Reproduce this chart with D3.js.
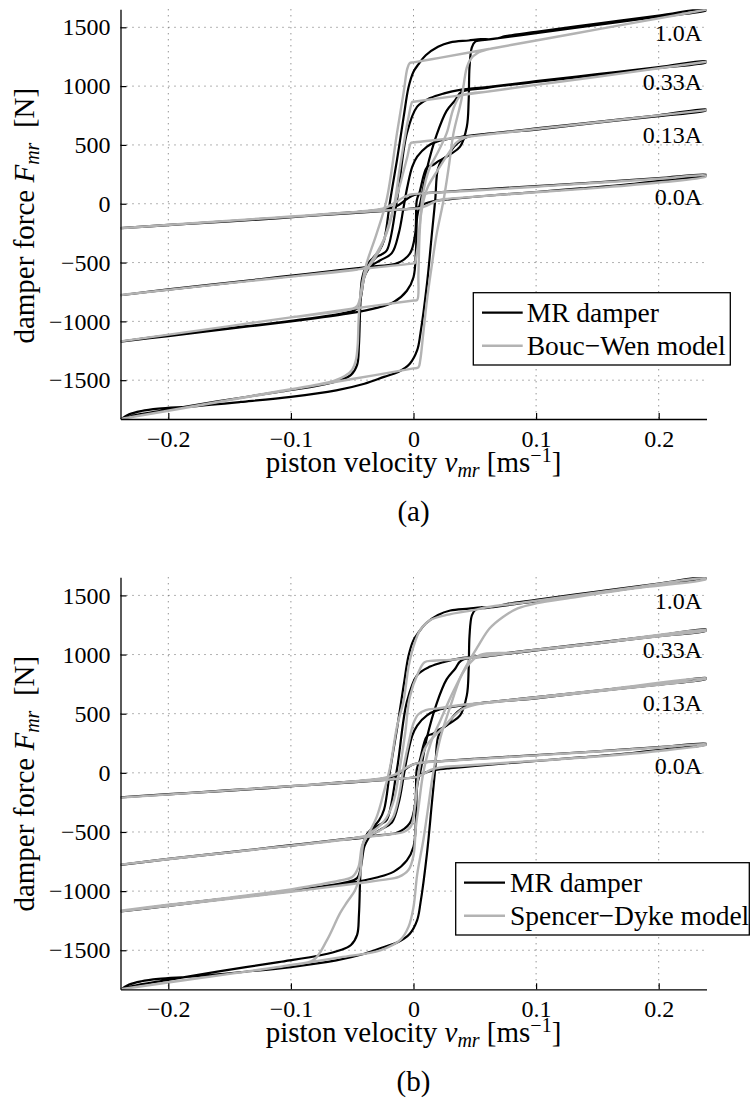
<!DOCTYPE html>
<html>
<head>
<meta charset="utf-8">
<script src="https://cdnjs.cloudflare.com/ajax/libs/d3/7.8.5/d3.min.js"></script>
<style>
  body { margin: 0; background: #fff; }
  svg text { font-family: "Liberation Serif", "Times New Roman", serif; fill: #000; }
</style>
</head>
<body>
<script>
// axis ticks: piston velocity [m/s] and damper force [N]
var xTicks = [-0.2, -0.1, 0, 0.1, 0.2];
var xTickLabels = ["\u22120.2", "\u22120.1", "0", "0.1", "0.2"];
var yTicks = [-1500, -1000, -500, 0, 500, 1000, 1500];
var yTickLabels = ["\u22121500", "\u22121000", "\u2212500", "0", "500", "1000", "1500"];

// coil currents and the force level their label sits at
var currents = ["1.0A", "0.33A", "0.13A", "0.0A"];
var currentLabelForce = [1385, 968, 520, -10];

// measured MR damper loops [velocity, force], increasing branch then decreasing branch
var measured10 = [[-0.239,-1835],[-0.232,-1790],[-0.222,-1762],[-0.208,-1742],[-0.18,-1722],[-0.141,-1685],[-0.1,-1642],[-0.063,-1586],[-0.04,-1530],[-0.024,-1472],[-0.0125,-1430],[-0.003,-1360],[0.003,-1245],[0.0057,-1100],[0.011,-680],[0.015,-255],[0.0177,30],[0.02,300],[0.024,380],[0.03,420],[0.038,485],[0.0435,655],[0.045,880],[0.0457,1160],[0.0476,1330],[0.0506,1380],[0.06,1395],[0.1,1450],[0.15,1520],[0.2,1590],[0.239,1645],
  [0.239,1655],[0.2,1600],[0.15,1532],[0.1,1462],[0.075,1425],[0.068,1405],[0.062,1398],[0.055,1400],[0.045,1388],[0.03,1372],[0.02,1335],[0.01,1262],[0.004,1185],[0,1122],[-0.004,992],[-0.008,740],[-0.0135,370],[-0.019,30],[-0.024,-310],[-0.028,-400],[-0.033,-460],[-0.038,-520],[-0.042,-640],[-0.0435,-900],[-0.0445,-1200],[-0.046,-1370],[-0.051,-1455],[-0.06,-1500],[-0.075,-1540],[-0.11,-1600],[-0.16,-1680],[-0.2,-1750],[-0.23,-1805],[-0.239,-1835]];
var measured033 = [[-0.239,-1172],[-0.2,-1125],[-0.15,-1062],[-0.1,-1000],[-0.054,-935],[-0.03,-885],[-0.016,-835],[-0.0054,-740],[0,-625],[0.002,-400],[0.003,-110],[0.006,30],[0.011,300],[0.019,590],[0.027,790],[0.034,880],[0.039,950],[0.06,985],[0.1,1035],[0.15,1095],[0.2,1155],[0.239,1203],
  [0.239,1212],[0.2,1162],[0.15,1102],[0.1,1042],[0.06,992],[0.038,968],[0.025,938],[0.0136,898],[0.003,826],[-0.0054,600],[-0.0135,30],[-0.0217,-395],[-0.026,-430],[-0.031,-460],[-0.036,-540],[-0.04,-620],[-0.043,-800],[-0.046,-890],[-0.055,-925],[-0.1,-995],[-0.15,-1058],[-0.2,-1118],[-0.239,-1172]];
var measured013 = [[-0.239,-778],[-0.2,-730],[-0.15,-672],[-0.109,-622],[-0.06,-565],[-0.03,-530],[-0.0135,-507],[-0.003,-425],[0.0014,-255],[0.0027,30],[0.005,100],[0.011,310],[0.016,330],[0.02,360],[0.027,400],[0.033,485],[0.039,540],[0.045,572],[0.1,630],[0.15,690],[0.2,745],[0.239,795],
  [0.239,802],[0.2,752],[0.15,696],[0.1,640],[0.06,595],[0.041,572],[0.019,528],[0.011,486],[0.003,400],[-0.001,315],[-0.005,145],[-0.008,-25],[-0.012,-250],[-0.0177,-420],[-0.027,-480],[-0.038,-540],[-0.06,-568],[-0.1,-615],[-0.15,-670],[-0.2,-728],[-0.239,-778]];
var measured00 = [[-0.239,-207],[-0.2,-182],[-0.15,-147],[-0.1,-113],[-0.05,-80],[-0.02,-58],[-0.008,-48],[0,-40],[0.004,-30],[0.008,-5],[0.012,10],[0.018,25],[0.03,40],[0.06,68],[0.1,100],[0.136,130],[0.18,170],[0.215,210],[0.239,240],
  [0.239,246],[0.2,218],[0.15,182],[0.1,150],[0.05,118],[0.02,97],[0.01,90],[0.004,82],[0,72],[-0.004,50],[-0.008,20],[-0.012,-10],[-0.018,-35],[-0.025,-48],[-0.04,-65],[-0.07,-88],[-0.109,-122],[-0.15,-150],[-0.2,-180],[-0.239,-207]];

// Bouc-Wen model loops
var boucWen10 = [[-0.239,-1830],[-0.15,-1670],[-0.1,-1580],[-0.05,-1490],[0,-1400],[0.004,-1392],[0.0055,-1330],[0.008,-1100],[0.011,-820],[0.015,-520],[0.019,-252],[0.0245,30],[0.029,330],[0.0326,598],[0.039,880],[0.0435,1160],[0.047,1235],[0.052,1280],[0.06,1310],[0.075,1340],[0.1,1388],[0.15,1482],[0.2,1576],[0.239,1650],
  [0.239,1650],[0.15,1482],[0.1,1388],[0.05,1294],[0.02,1238],[0,1202],[-0.003,1196],[-0.005,1150],[-0.008,950],[-0.0135,598],[-0.022,30],[-0.03,-252],[-0.039,-535],[-0.0435,-800],[-0.0448,-1000],[-0.0455,-1200],[-0.047,-1330],[-0.05,-1410],[-0.056,-1465],[-0.065,-1505],[-0.08,-1540],[-0.12,-1612],[-0.18,-1722],[-0.239,-1830]];
var boucWen033 = [[-0.239,-1170],[-0.15,-1040],[-0.1,-966],[-0.05,-893],[0,-823],[0.003,-818],[0.004,-600],[0.005,-250],[0.007,30],[0.01,200],[0.0136,315],[0.019,420],[0.027,598],[0.0326,810],[0.038,915],[0.045,935],[0.06,953],[0.1,1010],[0.15,1080],[0.2,1152],[0.239,1207],
  [0.239,1207],[0.15,1080],[0.1,1010],[0.05,938],[0,867],[-0.001,865],[-0.004,740],[-0.011,315],[-0.016,-25],[-0.022,-252],[-0.03,-420],[-0.036,-520],[-0.04,-620],[-0.043,-780],[-0.046,-870],[-0.05,-893],[-0.1,-966],[-0.15,-1040],[-0.239,-1170]];
var boucWen013 = [[-0.239,-776],[-0.15,-675],[-0.1,-620],[-0.05,-563],[0,-507],[0.001,-505],[0.003,-400],[0.006,-100],[0.009,60],[0.012,150],[0.02,290],[0.028,420],[0.035,520],[0.042,562],[0.05,577],[0.1,635],[0.15,693],[0.2,751],[0.239,796],
  [0.239,796],[0.15,693],[0.1,635],[0.05,577],[0,521],[-0.002,517],[-0.005,400],[-0.01,200],[-0.018,-100],[-0.025,-330],[-0.032,-470],[-0.037,-535],[-0.045,-558],[-0.1,-620],[-0.15,-675],[-0.239,-776]];
var boucWen00 = [[-0.239,-208],[-0.15,-145],[-0.1,-110],[-0.05,-75],[-0.02,-55],[0,-42],[0.005,-38],[0.01,-20],[0.018,20],[0.026,40],[0.04,52],[0.1,98],[0.15,135],[0.2,180],[0.239,232],
  [0.239,240],[0.2,212],[0.15,178],[0.1,145],[0.05,112],[0.02,95],[0,82],[-0.003,78],[-0.008,55],[-0.015,10],[-0.022,-30],[-0.03,-50],[-0.05,-72],[-0.1,-108],[-0.15,-145],[-0.239,-208]];

// Spencer-Dyke model loops
var spencer10 = [[-0.239,-1830],[-0.15,-1700],[-0.109,-1640],[-0.06,-1560],[-0.027,-1500],[-0.011,-1415],[-0.004,-1300],[0,-1135],[0.003,-860],[0.008,-570],[0.012,-290],[0.016,-5],[0.022,300],[0.03,560],[0.038,800],[0.045,940],[0.052,1060],[0.062,1220],[0.073,1318],[0.085,1390],[0.1,1432],[0.13,1482],[0.18,1560],[0.239,1638],
  [0.239,1645],[0.18,1568],[0.13,1498],[0.09,1440],[0.06,1400],[0.05,1378],[0.027,1335],[0.0136,1292],[0.0055,1208],[0,1068],[-0.004,898],[-0.008,615],[-0.0135,390],[-0.019,52],[-0.0245,-175],[-0.03,-372],[-0.038,-540],[-0.041,-600],[-0.0435,-850],[-0.0476,-990],[-0.054,-1090],[-0.06,-1188],[-0.0706,-1414],[-0.0816,-1583],[-0.1,-1625],[-0.15,-1700],[-0.2,-1770],[-0.239,-1830]];
var spencer033 = [[-0.239,-1170],[-0.15,-1065],[-0.1,-1005],[-0.05,-940],[-0.025,-905],[-0.012,-880],[-0.004,-820],[0,-700],[0.002,-450],[0.004,-300],[0.008,0],[0.014,250],[0.022,445],[0.033,699],[0.0435,896],[0.054,995],[0.08,1015],[0.1,1037],[0.15,1095],[0.2,1155],[0.239,1203],
  [0.239,1208],[0.15,1098],[0.1,1040],[0.06,990],[0.03,955],[0.016,948],[0.009,935],[0.004,850],[-0.003,642],[-0.0068,333],[-0.011,51],[-0.016,-231],[-0.022,-380],[-0.03,-470],[-0.038,-530],[-0.042,-620],[-0.045,-800],[-0.05,-880],[-0.06,-910],[-0.1,-985],[-0.15,-1055],[-0.2,-1115],[-0.239,-1165]];
var spencer013 = [[-0.239,-776],[-0.15,-672],[-0.1,-615],[-0.05,-555],[-0.02,-520],[-0.008,-500],[-0.002,-450],[0.001,-300],[0.003,-100],[0.006,100],[0.01,220],[0.016,300],[0.024,380],[0.032,470],[0.04,540],[0.05,575],[0.1,632],[0.15,690],[0.2,745],[0.239,795],
  [0.239,800],[0.15,696],[0.1,640],[0.06,595],[0.04,575],[0.02,545],[0.01,530],[0.004,495],[0,420],[-0.004,250],[-0.008,50],[-0.012,-200],[-0.017,-380],[-0.025,-470],[-0.035,-520],[-0.05,-555],[-0.1,-615],[-0.15,-672],[-0.2,-728],[-0.239,-776]];
var spencer00 = [[-0.239,-210],[-0.15,-148],[-0.1,-112],[-0.05,-78],[-0.02,-56],[-0.005,-45],[0.003,-35],[0.008,-10],[0.014,25],[0.022,45],[0.04,60],[0.1,102],[0.15,138],[0.2,185],[0.239,238],
  [0.239,242],[0.2,214],[0.15,180],[0.1,148],[0.05,116],[0.02,96],[0.008,88],[0.002,78],[-0.004,55],[-0.01,15],[-0.016,-20],[-0.025,-45],[-0.05,-72],[-0.1,-112],[-0.15,-148],[-0.239,-210]];

var measuredLoops = [measured10, measured033, measured013, measured00];

var panels = [
  {top: 9.3, height: 409.7, model: "Bouc\u2212Wen model", tag: "(a)",
   loops: [boucWen10, boucWen033, boucWen013, boucWen00],
   legend: {x: 473.3, y: 292.7, w: 257, h: 72.3, line: [482, 522.7], text: 526.7}},
  {top: 577.3, height: 412, model: "Spencer\u2212Dyke model", tag: "(b)",
   loops: [spencer10, spencer033, spencer013, spencer00],
   legend: {x: 455.7, y: 862.7, w: 293.6, h: 72.3, line: [464, 505], text: 510}}
];

var width = 751, height = 1105;
var xDomain = [-0.239, 0.239], yDomain = [-1830, 1653];
var left = 120.5, right = 706.5;

var svg = d3.select("body").append("svg")
    .attr("width", width)
    .attr("height", height);

panels.forEach(function(p, i) {
  var bottom = p.top + p.height;
  var x = d3.scaleLinear().domain(xDomain).range([left, right]);
  var y = d3.scaleLinear().domain(yDomain).range([bottom, p.top]);
  var g = svg.append("g");

  g.append("clipPath").attr("id", "clip" + i)
    .append("rect").attr("x", left).attr("y", p.top)
      .attr("width", right - left).attr("height", p.height);

  // dotted grid
  g.selectAll(".vgrid").data(xTicks).enter().append("line")
      .attr("x1", function(d) { return x(d); }).attr("x2", function(d) { return x(d); })
      .attr("y1", p.top).attr("y2", bottom)
      .attr("stroke", "#666").attr("stroke-width", 1).attr("stroke-dasharray", "1,5");
  g.selectAll(".hgrid").data(yTicks).enter().append("line")
      .attr("x1", left).attr("x2", right)
      .attr("y1", function(d) { return y(d); }).attr("y2", function(d) { return y(d); })
      .attr("stroke", "#666").attr("stroke-width", 1).attr("stroke-dasharray", "1,5");

  var line = d3.line()
      .x(function(d) { return x(d[0]); })
      .y(function(d) { return y(d[1]); })
      .curve(d3.curveCatmullRom.alpha(0.5));

  var plot = g.append("g").attr("clip-path", "url(#clip" + i + ")");

  // measured loops, then the model on top
  plot.selectAll(".measured").data(measuredLoops).enter().append("path")
      .attr("d", line).attr("fill", "none")
      .attr("stroke", "#000").attr("stroke-width", 2.2).attr("stroke-linejoin", "round");
  plot.selectAll(".model").data(p.loops).enter().append("path")
      .attr("d", line).attr("fill", "none")
      .attr("stroke", "#b3b3b3").attr("stroke-width", 2.4).attr("stroke-linejoin", "round");

  // current labels at the right end of each loop
  g.selectAll(".current").data(currents).enter().append("text")
      .attr("x", x(0.2355))
      .attr("y", function(d, k) { return y(currentLabelForce[k]); })
      .attr("text-anchor", "end")
      .attr("font-size", 24)
      .text(function(d) { return d; });

  // Add the X Axis
  var xAxis = g.append("g")
      .attr("transform", "translate(0," + bottom + ")")
      .call(d3.axisBottom(x).tickValues(xTicks)
        .tickFormat(function(d, k) { return xTickLabels[k]; })
        .tickSize(-6).tickSizeOuter(0).tickPadding(11));

  // Add the Y Axis
  var yAxis = g.append("g")
      .attr("transform", "translate(" + left + ",0)")
      .call(d3.axisLeft(y).tickValues(yTicks)
        .tickFormat(function(d, k) { return yTickLabels[k]; })
        .tickSize(-6).tickSizeOuter(0).tickPadding(10));

  [xAxis, yAxis].forEach(function(a) {
    a.attr("font-size", 24).attr("font-family", null);
    a.select(".domain").attr("stroke", "#000").attr("stroke-width", 1.3);
    a.selectAll(".tick line").attr("stroke", "#000").attr("stroke-width", 1.2);
  });

  // x label
  var xl = g.append("text")
      .attr("x", (left + right) / 2)
      .attr("y", bottom + 53)
      .attr("text-anchor", "middle")
      .attr("font-size", 29);
  xl.append("tspan").text("piston velocity ");
  xl.append("tspan").attr("font-style", "italic").text("v");
  xl.append("tspan").attr("font-style", "italic").attr("font-size", 20).attr("dy", 5).text("mr");
  xl.append("tspan").attr("dy", -5).text("\u00a0[ms");
  xl.append("tspan").attr("font-size", 20).attr("dy", -10).text("\u22121");
  xl.append("tspan").attr("dy", 10).text("]");

  // y label
  var yl = g.append("text")
      .attr("transform", "translate(34," + (p.top + 206.4) + ")rotate(-90)")
      .attr("text-anchor", "middle")
      .attr("font-size", 29);
  yl.append("tspan").text("damper force ");
  yl.append("tspan").attr("font-style", "italic").text("F");
  yl.append("tspan").attr("font-style", "italic").attr("font-size", 20).attr("dy", 5).text("mr");
  yl.append("tspan").attr("dy", -5).text("\u00a0\u00a0[N]");

  // panel tag
  g.append("text")
      .attr("x", (left + right) / 2)
      .attr("y", bottom + 102)
      .attr("text-anchor", "middle")
      .attr("font-size", 29)
      .text(p.tag);

  // legend
  var L = p.legend;
  var leg = g.append("g");
  leg.append("rect")
      .attr("x", L.x).attr("y", L.y).attr("width", L.w).attr("height", L.h)
      .attr("fill", "#fff").attr("stroke", "#000").attr("stroke-width", 1.3);
  var entries = [{name: "MR damper", color: "#000", w: 2.2}, {name: p.model, color: "#b3b3b3", w: 2.4}];
  entries.forEach(function(e, k) {
    var ry = L.y + 20 + k * 33;
    leg.append("line")
        .attr("x1", L.line[0]).attr("x2", L.line[1])
        .attr("y1", ry).attr("y2", ry)
        .attr("stroke", e.color).attr("stroke-width", e.w);
    leg.append("text")
        .attr("x", L.text).attr("y", ry + 9.5)
        .attr("font-size", 27.5)
        .text(e.name);
  });
});
</script>
</body>
</html>
